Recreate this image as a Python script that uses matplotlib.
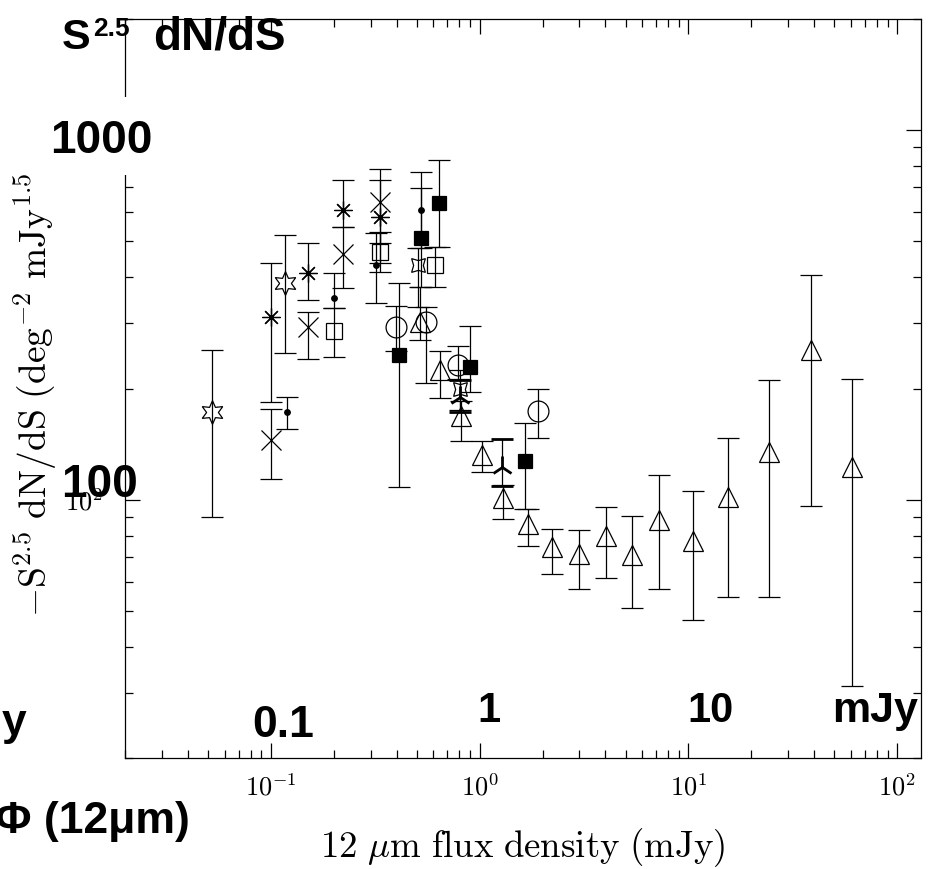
import matplotlib
matplotlib.use("Agg")
import matplotlib.pyplot as plt
import matplotlib.ticker as mticker
from matplotlib.patches import Rectangle
import numpy as np

plt.rcParams['mathtext.fontset'] = 'cm'

# 三角形 (主要序列)
tri_x = [0.516, 0.644, 0.811, 1.03, 1.30, 1.71, 2.21, 2.99, 4.01, 5.38, 7.21, 10.5, 15.4, 24.2, 38.6, 60.7]
tri_y = [303, 224, 168, 132, 101, 86.1, 74.5, 71.4, 79.6, 71.0, 88.3, 77.2, 102, 135, 254, 123]
tri_lo = [270, 188, 144, 118.6, 88.7, 75.1, 63.0, 57.5, 61.4, 50.8, 57.5, 47.4, 54.6, 54.6, 96.3, 31.3]
tri_hi = [377, 252, 185, 144, 109.8, 94.4, 83.3, 82.6, 95.3, 90.1, 116.3, 105.3, 146.8, 211, 406, 212]

# 實心方塊
fsq_x = [0.411, 0.522, 0.639, 0.896, 1.65]
fsq_y = [247, 512, 634, 229, 127.5]
fsq_lo = [108, 377, 484, 196, 94.4]
fsq_hi = [387, 698, 830, 296, 161]

# 空心圓
circ_x = [0.399, 0.556, 0.787, 1.90]
circ_y = [294, 303, 232, 174]
circ_lo = [253, 207, 212, 147]
circ_hi = [335, 333, 260, 199.5]

# 空心方塊
osq_x = [0.200, 0.332, 0.609]
osq_y = [286, 469, 432]
osq_lo = [244, 413, 376]
osq_hi = [330, 531, 484]

# 小黑點
dot_x = [0.120, 0.200, 0.320, 0.522]
dot_y = [173, 352, 432, 608]
dot_lo = [155, 330, 340, 479]
dot_hi = [190, 410, 527, 771]

# 星號
ast_x = [0.100, 0.150, 0.222, 0.332]
ast_y = [313, 410, 608, 583]
ast_lo = [184, 347, 548, 496]
ast_hi = [438, 496, 733, 733]

# 叉號
crs_x = [0.100, 0.150, 0.222, 0.332]
crs_y = [145, 294, 461, 640]
crs_lo = [114, 240, 373, 438]
crs_hi = [176, 323, 548, 783]

# 六角星
st6_x = [0.052, 0.117]
st6_y = [173, 385]
st6_lo = [90, 249]
st6_hi = [254, 520]

# 四角星
st4_x = [0.505, 0.802]
st4_y = [432, 200]
st4_lo = [333, 175]
st4_hi = [479, 224]

# 箭頭形
arr_x = [0.802, 1.274]
arr_y = [190, 123]
arr_lo = [173, 108.6]
arr_hi = [211, 146]

fig = plt.figure(figsize=(9.32, 8.69), dpi=100)
ax = fig.add_axes([125/932, 1-758/869, 796/932, 739/869])


def series(x, y, lo, hi, marker, ms, filled=False, mew=0.9):
    y = np.array(y, dtype=float)
    err = [y - np.array(lo), np.array(hi) - y]
    ax.errorbar(x, y, yerr=err, linestyle='none', marker=marker, ms=ms, mec='k',
                mfc='k' if filled else 'none', mew=mew, ecolor='k',
                elinewidth=0.9, capsize=8, capthick=0.9, zorder=3)


series(tri_x, tri_y, tri_lo, tri_hi, '^', 15)
series(fsq_x, fsq_y, fsq_lo, fsq_hi, 's', 9.5, filled=True)
series(circ_x, circ_y, circ_lo, circ_hi, 'o', 15)
series(osq_x, osq_y, osq_lo, osq_hi, 's', 12)
series(dot_x, dot_y, dot_lo, dot_hi, 'o', 4, filled=True)
series(ast_x, ast_y, ast_lo, ast_hi, (8, 2, 0), 13)
series(crs_x, crs_y, crs_lo, crs_hi, 'x', 14)
series(st6_x, st6_y, st6_lo, st6_hi, (6, 1, 0), 17)
series(st4_x, st4_y, st4_lo, st4_hi, (4, 1, 45), 14)
series(arr_x, arr_y, arr_lo, arr_hi, '2', 16, mew=2)

ax.set_xscale('log')
ax.set_yscale('log')
ax.set_xlim(0.02, 130)
ax.set_ylim(20, 2000)

fmt = mticker.FuncFormatter(lambda v, p: r'$10^{%d}$' % round(np.log10(v)))
ax.xaxis.set_major_formatter(fmt)
ax.yaxis.set_major_formatter(fmt)
ax.xaxis.set_minor_formatter(mticker.NullFormatter())
ax.yaxis.set_minor_formatter(mticker.NullFormatter())
ax.tick_params(which='both', direction='in', top=True, right=True, width=0.9, labelsize=19)
ax.tick_params(which='major', length=11)
ax.tick_params(which='minor', length=5.5)
ax.tick_params(axis='x', pad=12)
ax.tick_params(axis='y', pad=16)
for s in ax.spines.values():
    s.set_linewidth(0.9)

ax.set_xlabel(r'$12\ \mu\mathrm{m\ flux\ density\ (mJy)}$', fontsize=26.5)
ax.xaxis.set_label_coords(0.5, -(826-758)/739)

fig.text(35/932, 1-617/869, r'$-\mathrm{S}^{2.5}\ \mathrm{dN/dS}\ (\mathrm{deg}^{-2}\ \mathrm{mJy}^{1.5})$',
         rotation=90, ha='center', va='bottom', fontsize=27, zorder=1)

# 白色遮蓋框
fig.add_artist(Rectangle((0, 1-175/869), 165/932, 78/869, transform=fig.transFigure,
                         facecolor='white', edgecolor='none', zorder=4))

bold = dict(family=['Liberation Sans', 'DejaVu Sans'], weight='bold', va='baseline', zorder=5)
fig.text(101/932, 1-153/869, '1000', ha='center', fontsize=33, **bold)
fig.text(100/932, 1-497/869, '100', ha='center', fontsize=33, **bold)
fig.text(283/932, 1-737/869, '0.1', ha='center', fontsize=32, **bold)
fig.text(489/932, 1-722/869, '1', ha='center', fontsize=30, **bold)
fig.text(711/932, 1-722/869, '10', ha='center', fontsize=30, **bold)
fig.text(875/932, 1-722/869, 'mJy', ha='center', fontsize=31, **bold)
fig.text(62/932, 1-49/869, 'S', ha='left', fontsize=31, **bold)
fig.text(93/932, 1-36/869, '2.5', ha='left', fontsize=19, **bold)
fig.text(153/932, 1-49/869, 'dN/dS', ha='left', fontsize=33, **bold)
fig.text(190/932, 1-833/869, 'Φ (12μm)', ha='right', fontsize=32, **bold)
fig.text(26/932, 1-735/869, 'y', ha='right', fontsize=32, **bold)

fig.savefig('out.png', dpi=100)
